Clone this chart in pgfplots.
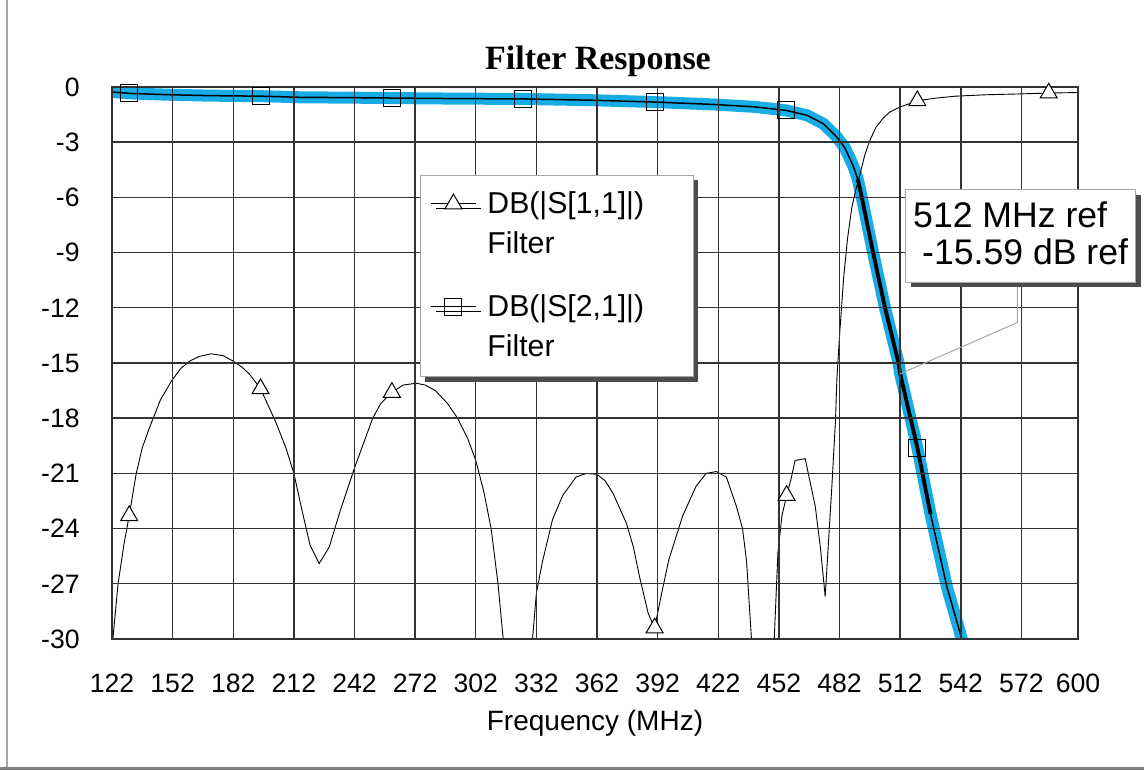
\documentclass[border=0pt]{standalone}
\usepackage{fontspec}
\setmainfont{Liberation Sans}
\newfontfamily\titleserif{Liberation Serif}
\usepackage{pgfplots}
\usepackage{pgfplotstable}
\pgfplotsset{compat=1.18}
\usetikzlibrary{shadows}
\definecolor{hilite}{RGB}{24,172,230}

% S21 (transmission)
\pgfplotstableread{
f db
120 -0.25
122 -0.27
131 -0.35
150 -0.42
170 -0.47
196 -0.50
215 -0.56
240 -0.58
261 -0.60
290 -0.63
326 -0.65
360 -0.72
391 -0.82
420 -0.95
440 -1.08
455.5 -1.27
466 -1.54
474 -2.0
480.5 -2.7
484.6 -3.3
488.8 -4.3
491 -5.0
493 -6.0
498.6 -9.0
504.5 -12.0
511.2 -15.0
512 -15.59
520.5 -19.6
527 -23.2
535.2 -27.2
542.5 -30.0
546 -31.6
}\stwoone

% S11 (reflection)
\pgfplotstableread{
f db
122 -30.5
125 -27
128 -24.8
130.5 -23.3
134 -21
137 -19.6
140.6 -18.5
146 -17
151.3 -16.0
156 -15.3
160.4 -14.9
165 -14.65
171 -14.5
177 -14.6
182 -14.9
186 -15.2
190 -15.6
195.5 -16.4
203 -18.2
208 -19.6
212 -21
216 -23
220 -24.9
224.5 -25.9
229.5 -25.0
235 -23
242 -20.7
251 -18.0
255 -17.2
260.5 -16.6
266 -16.2
272.5 -16.1
277 -16.2
282 -16.5
288 -17.2
293 -18
298 -19.1
302 -20.3
306 -22
309.6 -24
313 -27
316 -30.5
322 -38
329.7 -30.5
332 -27.5
335 -25.8
340 -23.5
345 -22.2
351.6 -21.2
356.7 -21.0
362 -21.05
366 -21.4
370 -22.1
376.5 -23.7
380 -25
383 -26.6
387.3 -28.6
390.5 -29.4
394 -27.5
397.5 -25.7
404.4 -23.3
411 -21.7
416 -21.0
421 -20.9
426 -21.2
431 -22.8
434 -24
436 -25.8
438.7 -30.5
444 -38
449.5 -30.5
451.5 -25.3
453.5 -23.3
455.8 -22.2
458 -21.3
460 -20.3
465 -20.2
470 -22.8
472.5 -25
474.9 -27.7
478.2 -21.7
480 -18.1
480.7 -15.8
482 -13.5
484 -10.4
486 -8.2
488 -6.6
490 -5.6
492 -4.8
494.5 -3.7
497 -2.9
500 -2.2
503.5 -1.7
507 -1.35
511.7 -1.1
520.5 -0.75
530 -0.6
539.3 -0.5
555 -0.42
570 -0.38
585.5 -0.33
600 -0.3
}\soneone

\begin{document}
\begin{tikzpicture}
\path[use as bounding box] (-56pt,-65.5pt) rectangle (516pt,319.5pt);
% scanned page edges
\draw[black!35, line width=0.6pt] (-52.5pt,-64pt) -- (-52.5pt,319.5pt);
\fill[black!50] (-56pt,-65.5pt) rectangle (516pt,-63.8pt);
\begin{axis}[
  scale only axis,
  width=483pt, height=276pt,
  xmin=122, xmax=600, ymin=-30, ymax=0,
  xtick={122,152,182,212,242,272,302,332,362,392,422,452,482,512,542,572,600},
  xticklabels={122,152,182,212,242,272,302,332,362,392,422,452,482,512,542,572,600},
  ytick={-30,-27,-24,-21,-18,-15,-12,-9,-6,-3,0},
  yticklabels={-30,-27,-24,-21,-18,-15,-12,-9,-6,-3,0},
  major tick length=0pt,
  xticklabel style={font=\fontsize{13.3}{15}\selectfont, anchor=base, inner sep=0pt, yshift=-26.85pt},
  yticklabel style={font=\fontsize{13.3}{15}\selectfont, anchor=east, inner sep=0pt, xshift=-16pt},
  grid=major,
  grid style={black!80, line width=0.7pt},
  axis line style={black!80, line width=0.7pt},
  axis on top,
  xlabel={Frequency (MHz)},
  xlabel style={at={(axis description cs:0.5,0)}, anchor=base, yshift=-45.5pt, font=\fontsize{14}{16}\selectfont},
  title={Filter Response},
  every axis title shift=0pt,
  title style={at={(axis description cs:0.5,1)}, anchor=base, yshift=8.85pt, xshift=1.5pt,
    font=\titleserif\bfseries\fontsize{17}{20}\selectfont},
  legend image code/.code={\draw[mark repeat=2,mark phase=2,yshift=5pt]
    plot coordinates {(0pt,0pt) (11.25pt,0pt) (22.5pt,0pt)};},
  legend style={
    at={(axis description cs:0.3188,0.8406)}, anchor=north west,
    draw=black!35, line width=0.5pt, fill=white,
    drop shadow={shadow xshift=2.5pt, shadow yshift=-2.5pt, fill=black!70, opacity=1},
    inner xsep=5pt, inner ysep=0pt,
    column sep=5.5pt, row sep=0pt,
    cells={anchor=base west},
    nodes={inner sep=0pt, text depth=, text width=97.9pt, align=left, font=\fontsize{15.1}{18}\selectfont},
  },
]
% blue highlighter pen over S21
\addplot[hilite, line width=6pt, line cap=round, line join=round, forget plot]
  table[x=f, y=db] {\stwoone};
% S11
\addplot[black, line width=0.45pt, forget plot] table[x=f, y=db] {\soneone};
\addplot[only marks, black, line width=0.5pt, mark=triangle*, mark size=4.9pt,
  mark options={fill=white}, forget plot] coordinates {
  (130.5,-23.3) (195.5,-16.4) (260.5,-16.6) (390.5,-29.4) (455.8,-22.2) (520.5,-0.75) (585.5,-0.33)};
% S21
\addplot[black, line width=0.75pt, forget plot] table[x=f, y=db] {\stwoone};
\addplot[black, line width=1.9pt, forget plot] coordinates {
  (491,-5.0) (493,-6.0) (498.6,-9.0) (504.5,-12.0) (511.2,-15.0) (512,-15.59) (520.5,-19.6) (527,-23.2)};
\addplot[only marks, black, line width=0.5pt, mark=square, mark size=4.25pt, forget plot] coordinates {
  (130.5,-0.35) (195.5,-0.5) (260.5,-0.6) (325.5,-0.65) (390.5,-0.82) (455.5,-1.27) (520.5,-19.6)};

\addlegendimage{black, line width=0.5pt, mark=triangle*, mark size=4.9pt, mark options={fill=white}}
\addlegendentry{\rule[-8pt]{0pt}{27.2pt}DB(|S[1,1]|)}
\addlegendimage{empty legend}
\addlegendentry{\rule[-19.35pt]{0pt}{31.35pt}Filter}
\addlegendimage{black, line width=0.5pt, mark=square, mark size=4.25pt}
\addlegendentry{\rule[-8pt]{0pt}{20pt}DB(|S[2,1]|)}
\addlegendimage{empty legend}
\addlegendentry{\rule[-10pt]{0pt}{22pt}Filter}

\coordinate (mkA) at (axis cs:512,-15.59);
\coordinate (mkB) at (axis cs:570,-12.8);
\coordinate (mkC) at (axis cs:570,-10.6);
\end{axis}
% marker readout box and its leader
\draw[black!35, line width=0.5pt] (mkA) -- (mkB) -- (mkC);
\node[anchor=north west, draw=black!35, line width=0.5pt, fill=white,
  drop shadow={shadow xshift=2.5pt, shadow yshift=-2.5pt, fill=black!70, opacity=1},
  inner xsep=3.85pt, inner ysep=0pt, align=left,
  font=\fontsize{17.8}{18.7}\selectfont] at (396.5pt,224.75pt)
  {\rule{0pt}{18.6pt}512 MHz ref\\\hspace*{4.5pt}-15.59 dB ref\rule[-8.85pt]{0pt}{8.85pt}};
\end{tikzpicture}
\end{document}
